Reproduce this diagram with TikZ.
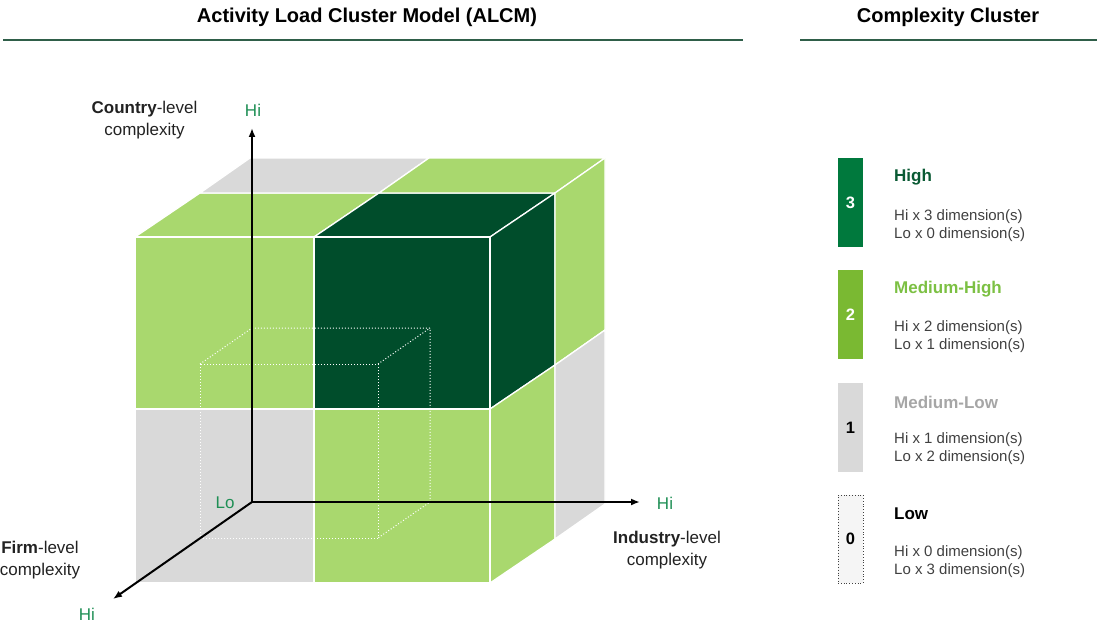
\documentclass[tikz,border=0pt]{standalone}
\usepackage{fontspec}
\setmainfont{Liberation Sans}
\usetikzlibrary{arrows.meta}
\definecolor{lgreen}{HTML}{A9D86E}
\definecolor{dgreen}{HTML}{004D2B}
\definecolor{cgray}{HTML}{D9D9D9}
\definecolor{hiGreen}{HTML}{00793D}
\definecolor{mhGreen}{HTML}{7AB932}
\definecolor{mhText}{HTML}{7CC043}
\definecolor{axisGreen}{HTML}{1F8F55}
\definecolor{titleLine}{HTML}{2F5E49}
\definecolor{highText}{HTML}{0A5A34}
\definecolor{mlText}{HTML}{A6A6A6}
\definecolor{descText}{HTML}{404040}
\definecolor{labText}{HTML}{222222}
\begin{document}
\begin{tikzpicture}[x=1pt,y=-1pt,
  face/.style={draw=white, line width=1.3pt, line join=round},
  lg/.style={face, fill=lgreen},
  dg/.style={face, fill=dgreen},
  gr/.style={face, fill=cgray},
  ghost/.style={draw=white, line width=1pt, dotted},
  axis/.style={line width=2pt, {Latex[length=9pt,width=7pt]}-{Latex[length=9pt,width=7pt]}},
  axisone/.style={line width=2pt, -{Latex[length=9pt,width=7pt]}},
  ttl/.style={font=\fontsize{20}{24}\selectfont\bfseries, inner sep=0pt},
  rule/.style={draw=titleLine, line width=1.5pt},
  axlab/.style={font=\fontsize{17}{22}\selectfont, align=center, text=labText, inner sep=0pt},
  hilo/.style={font=\fontsize{17}{20}\selectfont, text=axisGreen, inner sep=0pt},
  lbox/.style={minimum width=25pt, minimum height=89pt, inner sep=0pt, font=\fontsize{16.5}{18}\selectfont\bfseries},
  ltitle/.style={anchor=west, inner sep=0pt, font=\fontsize{17}{20}\selectfont\bfseries},
  ldesc/.style={anchor=west, inner sep=0pt, font=\fontsize{15}{18}\selectfont, text=descText, align=left}
]
\useasboundingbox (0,0) rectangle (1097,623);

% titles
\node[ttl] (t1) at (367,17) {Activity Load Cluster Model (ALCM)};
\node[ttl] (t2) at (948,17) {Complexity Cluster};
\coordinate (r1a) at (3,40); \coordinate (r1b) at (743,40);
\coordinate (r2a) at (800,40); \coordinate (r2b) at (1097,40);
\draw[rule] (r1a) -- (r1b);
\draw[rule] (r2a) -- (r2b);

% cube: top face
\draw[lg] (135,237) -- (314,237) -- (379,193) -- (200,193) -- cycle;
\draw[dg] (314,237) -- (490,237) -- (555,193) -- (379,193) -- cycle;
\draw[gr] (200,193) -- (379,193) -- (429,158) -- (250,158) -- cycle;
\draw[lg] (379,193) -- (555,193) -- (605,158) -- (429,158) -- cycle;
% right face
\draw[dg] (490,237) -- (555,193) -- (555,365) -- (490,409) -- cycle;
\draw[lg] (555,193) -- (605,158) -- (605,330) -- (555,365) -- cycle;
\draw[lg] (490,409) -- (555,365) -- (555,539) -- (490,583) -- cycle;
\draw[gr] (555,365) -- (605,330) -- (605,504) -- (555,539) -- cycle;
% front face
\draw[lg] (135,237) rectangle (314,409);
\draw[dg] (314,237) rectangle (490,409);
\draw[gr] (135,409) rectangle (314,583);
\draw[lg] (314,409) rectangle (490,583);

% ghost (low) cube
\draw[ghost] (200,364) rectangle (378,538);
\draw[ghost] (200,364) -- (252,328) -- (430,328) -- (430,502) -- (378,538);
\draw[ghost] (378,364) -- (430,328);
\draw[ghost] (200,538) -- (252,502) -- (252,328);
\draw[ghost] (252,502) -- (430,502);

% axes
\coordinate (O) at (252,502);
\coordinate (yEnd) at (252,128);
\coordinate (xEnd) at (640,502);
\coordinate (zEnd) at (113,599);
\draw[axis] (yEnd) -- (O) -- (xEnd);
\draw[axisone] (O) -- (zEnd);

\node[hilo] (hiY) at (253,110) {Hi};
\node[hilo] (hiX) at (665,503) {Hi};
\node[hilo] (hiZ) at (87,614) {Hi};
\node[hilo] (lo) at (225,503) {Lo};

\node[axlab] (country) at (144.5,120) {\textbf{Country}-level\\complexity};
\node[axlab] (firm) at (40,560.5) {\textbf{Firm}-level\\complexity};
\node[axlab] (industry) at (667,550.5) {\textbf{Industry}-level\\complexity};

% legend
\node[lbox, fill=hiGreen, text=white] (b3) at (850.5,202.5) {3};
\node[lbox, fill=mhGreen, text=white] (b2) at (850.5,314.5) {2};
\node[lbox, fill=cgray, text=black] (b1) at (850.5,427.5) {1};
\node[lbox, fill=black!4, draw=black!75, dotted, line width=0.8pt, text=black, minimum height=88pt] (b0) at (850.5,539) {0};

\node[ltitle, text=highText] (l3) at (894,177) {High};
\node[ldesc] (d3) at (894,226) {Hi x 3 dimension(s)\\Lo x 0 dimension(s)};
\node[ltitle, text=mhText] (l2) at (894,289) {Medium-High};
\node[ldesc] (d2) at (894,337) {Hi x 2 dimension(s)\\Lo x 1 dimension(s)};
\node[ltitle, text=mlText] (l1) at (894,402) {Medium-Low};
\node[ldesc] (d1) at (894,449) {Hi x 1 dimension(s)\\Lo x 2 dimension(s)};
\node[ltitle, text=black] (l0) at (894,514) {Low};
\node[ldesc] (d0) at (894,562) {Hi x 0 dimension(s)\\Lo x 3 dimension(s)};
\end{tikzpicture}
\end{document}
